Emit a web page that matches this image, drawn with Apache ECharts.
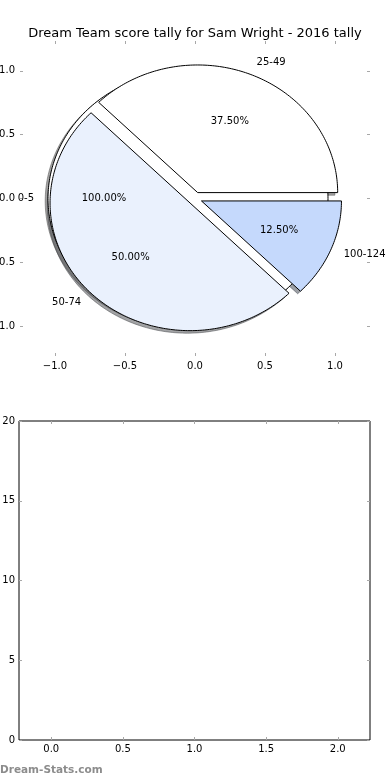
<!DOCTYPE html>
<html><head><meta charset="utf-8">
<script src="https://cdn.jsdelivr.net/npm/echarts@6/dist/echarts.min.js"></script>
<style>html,body{margin:0;padding:0;background:#fff}#c{width:390px;height:780px}</style>
</head><body><div id="c"></div>
<script>
const titleText = 'Dream Team score tally for Sam Wright - 2016 tally';
const pieALabels = ['0-5'];
const pieAValues = [1];
const pieBLabels = ['25-49', '50-74', '100-124'];
const pieBValues = [3, 4, 1];
const pieTicks = [-1, -0.5, 0, 0.5, 1];
const barXTicks = [0, 0.5, 1, 1.5, 2];
const barYTicks = [0, 5, 10, 15, 20];
const watermark = 'Dream-Stats.com';

const pieAColors = ['#ffffff'];
const pieBColors = ['#ffffff', '#eaf1fd', '#c5d9fc'];
const EXPLODE = 0.05;
const FONT = '"DejaVu Sans", sans-serif';

function build(labels, values, colors) {
  const total = values.reduce((a, b) => a + b, 0);
  let acc = 0;
  return values.map((v, i) => {
    const t1 = acc / total * 360; acc += v; const t2 = acc / total * 360;
    return { label: labels[i], pct: v / total * 100, t1, t2, color: colors[i] };
  });
}
const wedges = build(pieALabels, pieAValues, pieAColors).concat(build(pieBLabels, pieBValues, pieBColors));

function geom(api, w, ox, oy) {
  const rad = Math.PI / 180;
  const tm = (w.t1 + w.t2) / 2 * rad;
  const cx = EXPLODE * Math.cos(tm) + ox, cy = EXPLODE * Math.sin(tm) + oy;
  const pts = [];
  const full = (w.t2 - w.t1) >= 359.999;
  if (!full) pts.push(api.coord([cx, cy]));
  const n = Math.max(8, Math.ceil(w.t2 - w.t1));
  for (let k = 0; k <= n; k++) {
    const a = (w.t1 + (w.t2 - w.t1) * k / n) * rad;
    pts.push(api.coord([cx + Math.cos(a), cy + Math.sin(a)]));
  }
  return { pts, tm, cx, cy };
}
function shadowColor(hex) {
  const r = parseInt(hex.slice(1, 3), 16), g = parseInt(hex.slice(3, 5), 16), b = parseInt(hex.slice(5, 7), 16);
  return 'rgba(' + Math.round(r * 0.3) + ',' + Math.round(g * 0.3) + ',' + Math.round(b * 0.3) + ',0.5)';
}
const fmt1 = v => (v < 0 ? '\u2212' : '') + Math.abs(v).toFixed(1);
const tickStyle = { show: true, inside: true, length: 3, lineStyle: { color: '#a8a8a8', width: 1 } };
const lbl = (vals, f, margin) => ({ customValues: vals, formatter: f, margin: margin, color: '#000', fontSize: 10, fontFamily: FONT });
const noLine = { show: false, onZero: false };

function axis(gridIndex, min, max, position, ticks, f, margin) {
  return {
    gridIndex, type: 'value', min, max, position,
    axisLine: noLine, splitLine: { show: false },
    axisTick: Object.assign({ customValues: ticks }, tickStyle),
    axisLabel: f ? lbl(ticks, f, margin) : { show: false }
  };
}

const chart = echarts.init(document.getElementById('c'), null, { renderer: 'canvas' });
chart.setOption({
  animation: false,
  backgroundColor: '#fff',
  title: { text: titleText, left: 'center', top: 22, textStyle: { fontSize: 13, fontWeight: 'normal', color: '#000', fontFamily: FONT } },
  graphic: [{ type: 'text', left: 0, top: 765, style: { text: watermark, font: 'bold 10.5px ' + FONT, fill: '#8c8c8c' } }],
  grid: [
    { left: 20, right: 20, top: 41, height: 315, show: false, outerBoundsMode: 'none', containLabel: false },
    { left: 19, right: 20, top: 421, height: 319, show: true, borderColor: '#000', borderWidth: 1, backgroundColor: 'transparent', outerBoundsMode: 'none', containLabel: false }
  ],
  xAxis: [
    axis(0, -1.25, 1.25, 'bottom', pieTicks, fmt1, 5),
    axis(0, -1.25, 1.25, 'top', pieTicks, null),
    axis(1, -0.225, 2.225, 'bottom', barXTicks, fmt1, 4),
    axis(1, -0.225, 2.225, 'top', barXTicks, null)
  ],
  yAxis: [
    axis(0, -1.234, 1.234, 'left', pieTicks, fmt1, 5),
    axis(0, -1.234, 1.234, 'right', pieTicks, null),
    axis(1, 0, 20, 'left', barYTicks, v => String(v), 4),
    axis(1, 0, 20, 'right', barYTicks, null)
  ],
  series: [
    {
      type: 'custom', xAxisIndex: 0, yAxisIndex: 0, z: 1, clip: false, silent: true,
      data: wedges.map(() => [0, 0]),
      renderItem: function (params, api) {
        const w = wedges[params.dataIndex];
        const g = geom(api, w, -0.02, -0.02);
        const c = shadowColor(w.color);
        return { type: 'polygon', shape: { points: g.pts }, style: { fill: c, stroke: c, lineWidth: 1 } };
      }
    },
    {
      type: 'custom', xAxisIndex: 0, yAxisIndex: 0, z: 2, clip: false, silent: true,
      data: wedges.map(() => [0, 0]),
      renderItem: function (params, api) {
        const i = params.dataIndex;
        const w = wedges[i];
        const g = geom(api, w, 0, 0);
        const lp = api.coord([g.cx + 1.1 * Math.cos(g.tm), g.cy + 1.1 * Math.sin(g.tm)]);
        const pp = api.coord([g.cx + 0.6 * Math.cos(g.tm), g.cy + 0.6 * Math.sin(g.tm)]);
        const right = (g.cx + 1.1 * Math.cos(g.tm)) > 0;
        return {
          type: 'group', children: [
            { type: 'polygon', z2: i, shape: { points: g.pts }, style: { fill: w.color, stroke: '#000', lineWidth: 1 } },
            { type: 'text', z2: 100, x: lp[0], y: lp[1], style: { text: w.label, fill: '#000', font: '10px ' + FONT, align: right ? 'left' : 'right', verticalAlign: 'middle' } },
            { type: 'text', z2: 100, x: pp[0], y: pp[1], style: { text: w.pct.toFixed(2) + '%', fill: '#000', font: '10px ' + FONT, align: 'center', verticalAlign: 'middle' } }
          ]
        };
      }
    }
  ]
});
</script>
</body></html>
